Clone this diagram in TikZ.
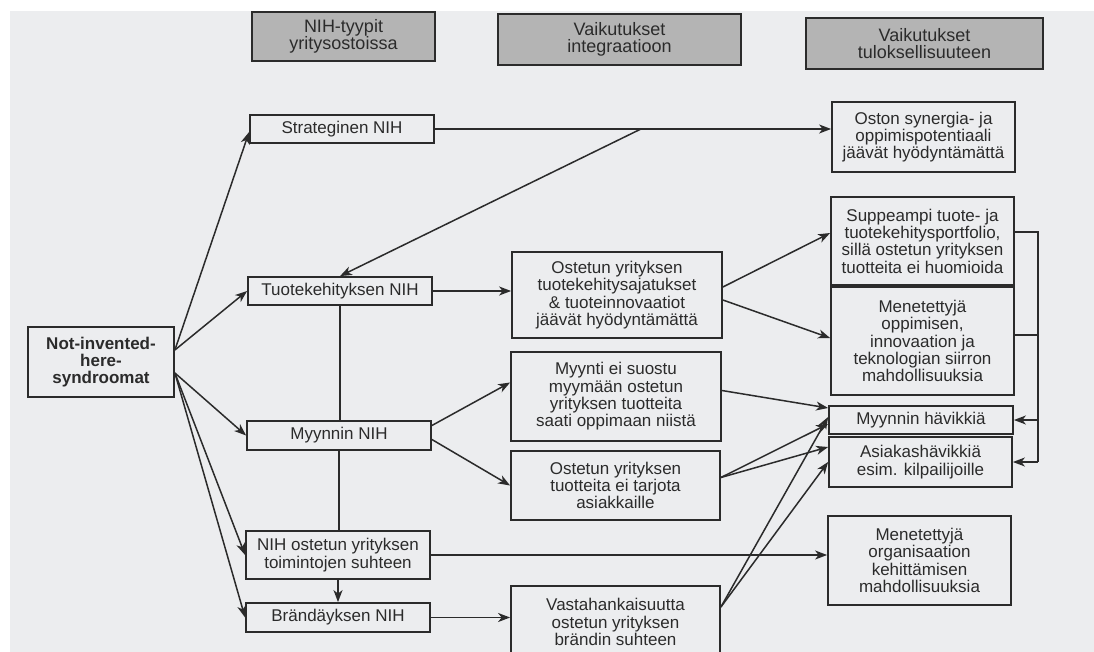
\documentclass[tikz,border=0pt]{standalone}
\usepackage{fontspec}
\setmainfont{Liberation Sans}
\usetikzlibrary{arrows.meta,calc}
\definecolor{paper}{HTML}{ECEDEF}
\definecolor{ink}{HTML}{2B2B2B}
\definecolor{head}{HTML}{B4B4B4}

\begin{document}
\begin{tikzpicture}[x=1pt,y=-1pt,color=ink,line width=1.5pt]
      \useasboundingbox (0,0) rectangle (1094,652);
      \clip (0,0) rectangle (1094,652);
      \fill[paper] (10,11) rectangle (1094,652);
      \tikzset{B/.style = {shape=rectangle, draw=ink, line width=1.8pt, text=ink, align=center, inner sep=0pt, font=\fontsize{17}{17.3}\selectfont}}
      \tikzset{H/.style = {B, fill=head, line width=2.6pt, font=\fontsize{18}{17}\selectfont}}
      \tikzset{E/.style = {draw=ink, -{Stealth[length=12pt,width=9pt,inset=3.5pt]}}}
      % headers
      \node[H,minimum width=183pt,minimum height=49pt](h1) at (343.5,36.5) {NIH-tyypit\\yritysostoissa};
      \node[H,minimum width=243pt,minimum height=51pt](h2) at (619.5,39.5) {Vaikutukset\\integraatioon};
      \node[H,minimum width=237pt,minimum height=51pt](h3) at (924.5,43.5) {Vaikutukset\\tuloksellisuuteen};
      % NIH types
      \node[B,minimum width=146pt,minimum height=70pt,font=\fontsize{17}{17.3}\selectfont\bfseries](nih) at (101,362) {Not-invented-\\here-\\syndroomat};
      \node[B,minimum width=184pt,minimum height=28pt](str) at (342,129) {Strateginen NIH};
      \node[B,minimum width=184pt,minimum height=28pt](tke) at (340,291) {Tuotekehityksen NIH};
      \node[B,minimum width=184pt,minimum height=29pt](myy) at (339,435.5) {Myynnin NIH};
      \node[B,minimum width=184pt,minimum height=48pt](toi) at (338,555) {NIH ostetun yrityksen\\toimintojen suhteen};
      \node[B,minimum width=184pt,minimum height=29pt](bra) at (338,617.5) {Brändäyksen NIH};
      % effects on integration
      \node[B,minimum width=210pt,minimum height=86pt](i1) at (617,295) {Ostetun yrityksen\\tuotekehitysajatukset\\\& tuoteinnovaatiot\\jäävät hyödyntämättä};
      \node[B,minimum width=210pt,minimum height=89pt](i2) at (616,396.5) {Myynti ei suostu\\myymään ostetun\\yrityksen tuotteita\\saati oppimaan niistä};
      \node[B,minimum width=209pt,minimum height=69pt](i3) at (615.5,485.5) {Ostetun yrityksen\\tuotteita ei tarjota\\asiakkaille};
      \node[B,minimum width=209pt,minimum height=72pt](i4) at (615.5,622) {Vastahankaisuutta\\ostetun yrityksen\\brändin suhteen};
      % effects on performance
      \node[B,minimum width=183pt,minimum height=70pt](r1) at (923.5,137) {Oston synergia- ja\\oppimispotentiaali\\jäävät hyödyntämättä};
      \node[B,minimum width=183pt,minimum height=88pt](r2) at (922.5,241) {Suppeampi tuote- ja\\tuotekehitysportfolio,\\sillä ostetun yrityksen\\tuotteita ei huomioida};
      \node[B,minimum width=183pt,minimum height=108pt](r3) at (922.5,341) {Menetettyjä\\oppimisen,\\innovaation ja\\teknologian siirron\\mahdollisuuksia};
      \node[B,minimum width=184pt,minimum height=28pt](r4) at (921,420) {Myynnin hävikkiä};
      \node[B,minimum width=183pt,minimum height=50pt](r5) at (920.5,462) {Asiakashävikkiä\\esim. kilpailijoille};
      \node[B,minimum width=183pt,minimum height=89pt](r6) at (919.5,560.5) {Menetettyjä\\organisaation\\kehittämisen\\mahdollisuuksia};
      % connectors
      \coordinate (nu) at ([yshift=12pt]nih.east);
      \coordinate (nd) at ([yshift=-11pt]nih.east);
      \draw[E](nu) to ([yshift=-3pt]str.west);
      \draw[E](nu) to (tke.west);
      \draw[E](nd) to (myy.west);
      \draw[E](nd) to (toi.west);
      \draw[E](nd) to (bra.west);
      \coordinate (sb) at ($(str.east)!0.52!(str.east -| r1.west)$);
      \draw[E](str.east) to (str.east -| r1.west);
      \draw[E](sb) to (tke.north);
      \draw[E](tke.east) to (tke.east -| i1.west);
      \draw(tke.south) to (tke.south |- myy.north);
      \draw(myy.south) to (myy.south |- toi.north);
      \draw[E](toi.south) to (toi.south |- bra.north);
      \draw[E]([yshift=8pt]i1.east) to ([yshift=8pt]r2.west);
      \draw[E]([yshift=-5pt]i1.east) to ([yshift=3pt]r3.west);
      \draw[E]([yshift=10pt]myy.east) to ([yshift=14pt]i2.west);
      \draw[E]([yshift=-4pt]myy.east) to (i3.west);
      \draw[E](toi.east) to (toi.east -| r6.west);
      \draw[E](bra.east) to (bra.east -| i4.west);
      \draw[E]([yshift=6pt]i2.east) to ([yshift=12pt]r4.west);
      \coordinate (c3) at ([yshift=8pt]i3.east);
      \draw[E](c3) to ([yshift=-4pt]r4.west);
      \draw[E](c3) to ([yshift=15pt]r5.west);
      \coordinate (c4) at ([yshift=15pt]i4.east);
      \draw[E](c4) to ([yshift=3pt]r4.west);
      \draw[E](c4) to (r5.west);
      % feedback on the right
      \coordinate (fa) at ([xshift=23pt,yshift=9pt]r2.east);
      \draw([yshift=9pt]r2.east) -- (fa) -- (fa |- r5.east);
      \draw([yshift=6pt]r3.east) -- ([yshift=6pt]r3.east -| fa);
      \draw[E](fa |- r4.east) to (r4.east);
      \draw[E](fa |- r5.east) to (r5.east);
\end{tikzpicture}
\end{document}
